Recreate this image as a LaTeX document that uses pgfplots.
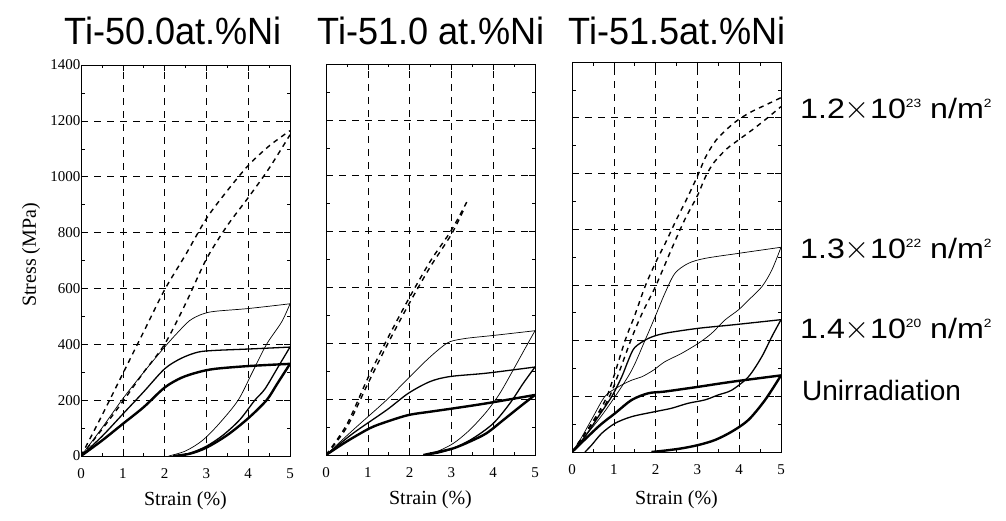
\documentclass[border=0pt]{standalone}
\usepackage{fontspec}
\setmainfont{Liberation Serif}
\newfontfamily\titlefont[FakeStretch=0.95]{Liberation Sans}
\newfontfamily\labfont{Liberation Sans}
\newfontfamily\fluxfont[FakeStretch=1.15]{Liberation Sans}
\usepackage{graphicx}
\usepackage{pgfplots}
\pgfplotsset{compat=1.18}

\pgfplotsset{
  panel/.style={
    scale only axis, width=209pt, height=391pt,
    xmin=0, xmax=5, ymin=0, ymax=1400,
    xtick={0,1,2,3,4,5}, ytick={0,200,400,600,800,1000,1200,1400},
    minor x tick num=1, minor y tick num=1,
    tick align=inside,
    xtick pos=both, ytick pos=both,
    major tick length=6pt, minor tick length=3.5pt,
    tick style={black, line width=0.5pt},
    grid=major,
    major grid style={black, line width=0.45pt, dash pattern=on 7pt off 6pt},
    axis line style={black, line width=0.7pt},
    /pgf/number format/assume math mode=true,
    /pgf/number format/set thousands separator={},
    xticklabel style={font=\fontsize{15}{15}\selectfont, yshift=-9pt},
    yticklabel style={font=\fontsize{15}{15}\selectfont, xshift=3pt},
    xlabel={Strain (\%)},
    xlabel style={font=\fontsize{20}{20}\selectfont, at={(axis description cs:0.5,0)}, anchor=center, yshift=-45pt},
  },
  unirr/.style={black, line width=2.4pt, smooth, tension=0.5},
  lowf/.style={black, line width=1.3pt, smooth, tension=0.5},
  midf/.style={black, line width=0.7pt, smooth, tension=0.5},
  highf/.style={black, line width=1.4pt, dash pattern=on 5pt off 4.5pt, smooth, tension=0.5},
}

\newcommand{\sups}[1]{\raisebox{11.5pt}{\fontsize{12}{12}\selectfont #1}}
\newcommand{\flux}[2]{\fluxfont\fontsize{28}{28}\selectfont #1\scalebox{1.3}{$\times$}10\sups{#2} n/m\sups{2}}

\begin{document}
\begin{tikzpicture}
\useasboundingbox (0pt,0pt) rectangle (1006pt,520pt);

% ---------- Panel 1: Ti-50.0 at.% Ni ----------
\begin{axis}[panel, at={(81pt,64pt)}, anchor=south west]
\addplot[highf] coordinates {(0,0)(0.5,145)(1,295)(1.5,445)(2,595)(2.5,720)(3,850)(3.5,950)(4,1040)(4.5,1110)(5,1165)};
\addplot[highf] coordinates {(0,0)(0.5,95)(1,195)(1.5,300)(2,400)(2.5,545)(3,705)(3.5,825)(4,925)(4.5,1030)(5,1150)};
\addplot[midf] coordinates {(0,0)(0.5,100)(1,205)(1.5,300)(2,390)(2.3,440)(2.6,485)(2.9,508)(3.2,518)(4,528)(5,545)};
\addplot[midf] coordinates {(5,545)(4.8,480)(4.44,400)(4.1,300)(3.76,200)(3.3,115)(2.9,55)(2.5,18)(2.1,0)};
\addplot[lowf] coordinates {(0,0)(0.5,70)(1,150)(1.5,230)(2,312)(2.4,350)(2.8,372)(3.2,378)(4,383)(5,390)};
\addplot[lowf] coordinates {(5,390)(4.72,320)(4.4,240)(4.16,200)(3.8,130)(3.4,75)(3.0,35)(2.6,10)(2.25,0)};
\addplot[unirr] coordinates {(0,0)(0.5,55)(1,115)(1.5,175)(2,245)(2.4,280)(2.8,300)(3.2,312)(4,322)(5,330)};
\addplot[unirr] coordinates {(5,330)(4.7,260)(4.44,200)(4.0,135)(3.5,75)(3.0,30)(2.6,8)(2.2,0)};
\end{axis}

% ---------- Panel 2: Ti-51.0 at.% Ni ----------
\begin{axis}[panel, at={(326pt,65pt)}, anchor=south west, yticklabels={}]
\addplot[highf] coordinates {(0,0)(0.5,110)(1,275)(1.5,425)(2,565)(2.5,695)(3,805)(3.4,915)};
\addplot[highf] coordinates {(0,0)(0.5,100)(1,255)(1.5,405)(2,545)(2.5,675)(3,790)(3.3,880)};
\addplot[midf] coordinates {(0,0)(0.65,90)(1.45,197)(1.97,275)(2.41,340)(2.73,382)(2.97,406)(3.37,418)(4,428)(5,445)};
\addplot[midf] coordinates {(5,445)(4.72,370)(4.48,305)(4.16,221)(3.84,155)(3.44,90)(3.05,42)(2.65,12)(2.33,0)};
\addplot[lowf] coordinates {(0,0)(0.65,78)(1.45,161)(1.97,221)(2.49,263)(2.97,281)(3.84,293)(5,315)};
\addplot[lowf] coordinates {(5,315)(4.72,257)(4.4,185)(4.0,113)(3.52,60)(3.05,24)(2.65,6)(2.33,0)};
\addplot[unirr] coordinates {(0,0)(0.49,48)(1.05,96)(1.45,119)(1.97,143)(2.49,155)(3.05,167)(3.84,185)(5,215)};
\addplot[unirr] coordinates {(5,215)(4.64,173)(4.24,125)(3.84,78)(3.44,48)(3.05,24)(2.65,10)(2.33,0)};
\end{axis}

% ---------- Panel 3: Ti-51.5 at.% Ni ----------
\begin{axis}[panel, at={(572pt,68pt)}, anchor=south west, height=390pt, yticklabels={},
  xlabel style={yshift=-3pt}]
\addplot[highf] coordinates {(0,0)(0.5,110)(0.85,205)(1.27,400)(1.5,490)(1.75,595)(2,680)(2.25,755)(2.5,835)(2.75,910)(3,990)(3.2,1060)(3.45,1120)(3.75,1165)(4,1195)(4.3,1222)(4.65,1247)(5,1272)};
\addplot[highf] coordinates {(0,0)(0.5,105)(0.9,200)(1.43,410)(1.7,505)(2,595)(2.4,735)(2.7,835)(3,920)(3.2,990)(3.4,1040)(3.7,1088)(4,1122)(4.3,1155)(4.6,1190)(5,1240)};
\addplot[midf] coordinates {(0,0)(0.63,115)(1.03,199)(1.43,294)(1.75,402)(1.99,486)(2.22,569)(2.46,641)(2.78,677)(3.18,695)(3.98,713)(5,735)};
\addplot[midf] coordinates {(5,735)(4.78,653)(4.54,593)(4.22,545)(3.98,510)(3.66,474)(3.34,426)(3.02,390)(2.62,354)(2.22,324)(1.95,294)(1.67,270)(1.43,258)(1.11,234)(0.79,200)(0.5,125)(0.2,45)(0,0)};
\addplot[lowf] coordinates {(0,0)(0.31,55)(0.63,127)(0.95,199)(1.19,270)(1.35,330)(1.5,375)(1.83,408)(2.22,426)(3.02,444)(3.82,456)(5,475)};
\addplot[lowf] coordinates {(5,475)(4.78,414)(4.54,342)(4.22,270)(3.82,222)(3.5,205)(3.18,187)(2.78,175)(2.38,157)(1.99,145)(1.43,127)(1.03,103)(0.71,67)(0.47,25)(0.31,0)};
\addplot[unirr] coordinates {(0,0)(0.63,91)(1.03,139)(1.43,187)(1.83,211)(2.22,217)(3.02,234)(3.82,252)(5,275)};
\addplot[unirr] coordinates {(5,275)(4.62,187)(4.22,115)(3.82,73)(3.42,43)(3.02,25)(2.62,13)(2.22,5)(1.9,0)};
\end{axis}

% ---------- texts ----------
\node[rotate=90, font=\fontsize{20}{20}\selectfont] at (31pt,265pt) {Stress (MPa)};
\node[anchor=base, font=\titlefont\fontsize{38}{38}\selectfont] at (173pt,475pt) {Ti-50.0at.\%Ni};
\node[anchor=base, font=\titlefont\fontsize{38}{38}\selectfont] at (431pt,475pt) {Ti-51.0 at.\%Ni};
\node[anchor=base, font=\titlefont\fontsize{38}{38}\selectfont] at (677pt,475pt) {Ti-51.5at.\%Ni};

\node[anchor=west, inner sep=0pt] at (800pt,410pt) {\flux{1.2}{23}};
\node[anchor=west, inner sep=0pt] at (800pt,270pt) {\flux{1.3}{22}};
\node[anchor=west, inner sep=0pt] at (800pt,190pt) {\flux{1.4}{20}};
\node[anchor=west, inner sep=0pt, font=\labfont\fontsize{28}{28}\selectfont] at (802pt,130pt) {Unirradiation};
\end{tikzpicture}
\end{document}
